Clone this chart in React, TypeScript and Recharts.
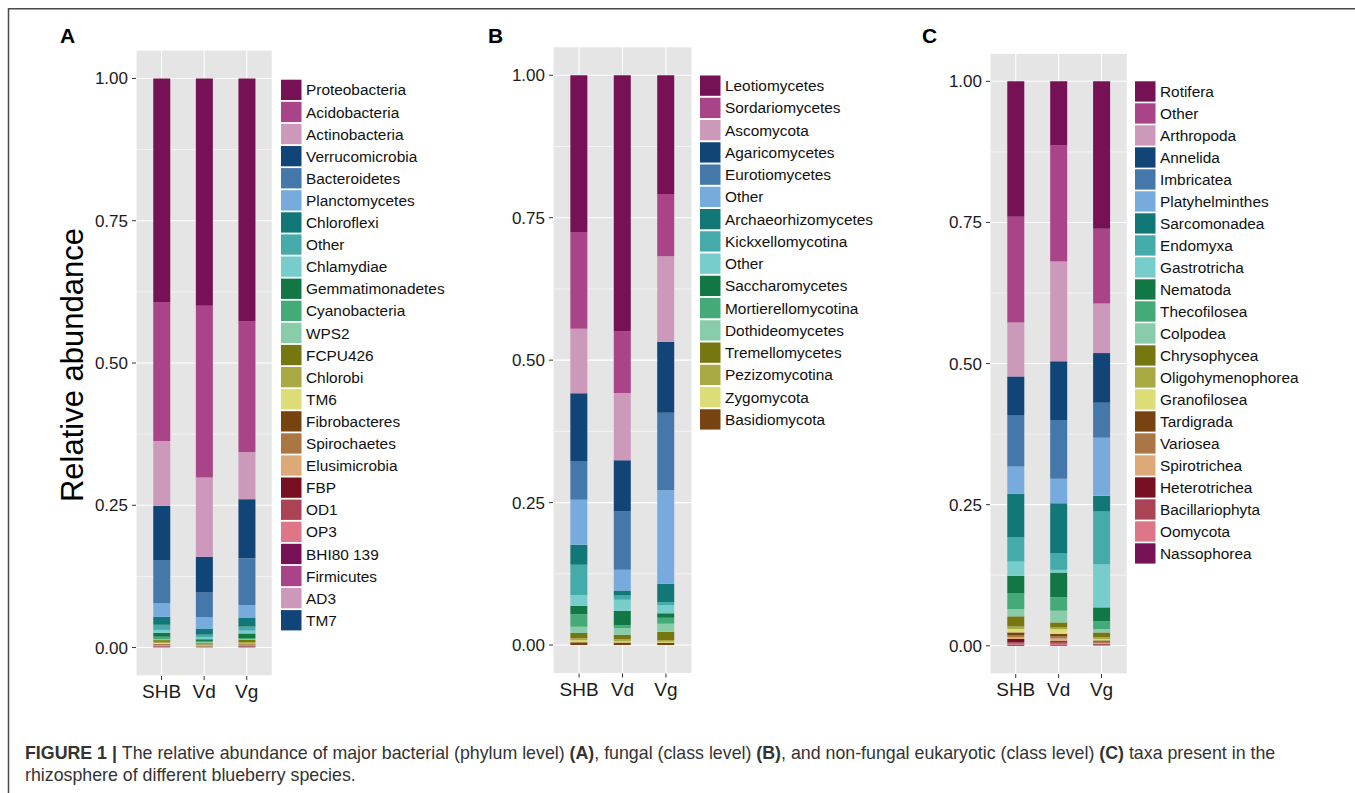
import React from "react";
import { BarChart, Bar, XAxis, YAxis, CartesianGrid } from "recharts";

const FONT = "'Liberation Sans', Arial, Helvetica, sans-serif";

const SAMPLES = ["SHB", "Vd", "Vg"];
const Y_TICKS = [0, 0.25, 0.5, 0.75, 1];
const Y_MINOR_TICKS = [0.125, 0.375, 0.625, 0.875];

const PALETTE = [
  "#771155", "#AA4488", "#CC99BB", "#114477", "#4477AA", "#77AADD", "#117777",
  "#44AAAA", "#77CCCC", "#117744", "#44AA77", "#88CCAA", "#777711", "#AAAA44",
  "#DDDD77", "#774411", "#AA7744", "#DDAA77", "#771122", "#AA4455", "#DD7788",
  "#771155", "#AA4488", "#CC99BB", "#114477",
];

// Panel A: bacteria (phylum level)
const BACTERIA_TAXA = [
  "Proteobacteria", "Acidobacteria", "Actinobacteria", "Verrucomicrobia", "Bacteroidetes",
  "Planctomycetes", "Chloroflexi", "Other", "Chlamydiae", "Gemmatimonadetes", "Cyanobacteria",
  "WPS2", "FCPU426", "Chlorobi", "TM6", "Fibrobacteres", "Spirochaetes", "Elusimicrobia",
  "FBP", "OD1", "OP3", "BHI80 139", "Firmicutes", "AD3", "TM7",
];
const BACTERIA_SHB = [0.393, 0.244, 0.114, 0.095, 0.076, 0.024, 0.014, 0.009, 0.005, 0.007, 0.004, 0.002, 0.003, 0.002, 0.0015, 0.001, 0.001, 0.001, 0.001, 0.001, 0.0005, 0.0003, 0.0003, 0.0002, 0.0002];
const BACTERIA_VD = [0.3994, 0.302, 0.139, 0.063, 0.043, 0.021, 0.010, 0.004, 0.004, 0.003, 0.002, 0.002, 0.002, 0.002, 0.0006, 0.0006, 0.0005, 0.0005, 0.0003, 0.0003, 0.0002, 0.0002, 0.0002, 0.0001, 0.0001];
const BACTERIA_VG = [0.4272, 0.229, 0.083, 0.104, 0.082, 0.022, 0.016, 0.007, 0.005, 0.008, 0.002, 0.001, 0.004, 0.003, 0.001, 0.0012, 0.001, 0.0008, 0.0008, 0.0006, 0.0004, 0.0003, 0.0003, 0.0002, 0.0002];

// Panel B: fungi (class level)
const FUNGI_TAXA = [
  "Leotiomycetes", "Sordariomycetes", "Ascomycota", "Agaricomycetes", "Eurotiomycetes", "Other",
  "Archaeorhizomycetes", "Kickxellomycotina", "Other", "Saccharomycetes", "Mortierellomycotina",
  "Dothideomycetes", "Tremellomycetes", "Pezizomycotina", "Zygomycota", "Basidiomycota",
];
const FUNGI_SHB = [0.275, 0.170, 0.113, 0.119, 0.068, 0.079, 0.035, 0.053, 0.019, 0.015, 0.022, 0.011, 0.009, 0.0035, 0.0035, 0.005];
const FUNGI_VD = [0.4496, 0.108, 0.118, 0.090, 0.1025, 0.036, 0.009, 0.0076, 0.019, 0.0257, 0.0047, 0.0118, 0.0076, 0.004, 0.0023, 0.0042];
const FUNGI_VG = [0.2085, 0.109, 0.150, 0.125, 0.136, 0.164, 0.032, 0.0053, 0.0146, 0.0076, 0.0106, 0.014, 0.0146, 0.003, 0.0018, 0.004];

// Panel C: non-fungal eukaryotes (class level)
const EUK_TAXA = [
  "Rotifera", "Other", "Arthropoda", "Annelida", "Imbricatea", "Platyhelminthes", "Sarcomonadea",
  "Endomyxa", "Gastrotricha", "Nematoda", "Thecofilosea", "Colpodea", "Chrysophycea",
  "Oligohymenophorea", "Granofilosea", "Tardigrada", "Variosea", "Spirotrichea", "Heterotrichea",
  "Bacillariophyta", "Oomycota", "Nassophorea",
];
const EUK_SHB = [0.2398, 0.1875, 0.0955, 0.0685, 0.091, 0.0485, 0.0765, 0.0435, 0.025, 0.0307, 0.0283, 0.013, 0.018, 0.0045, 0.006, 0.0046, 0.0036, 0.0035, 0.006, 0.0025, 0.0015, 0.002];
const EUK_VD = [0.1135, 0.2055, 0.177, 0.104, 0.104, 0.0435, 0.089, 0.029, 0.0048, 0.0436, 0.024, 0.0207, 0.0089, 0.003, 0.0083, 0.0047, 0.0035, 0.0047, 0.0023, 0.0025, 0.0023, 0.0012];
const EUK_VG = [0.2614, 0.132, 0.088, 0.088, 0.062, 0.103, 0.027, 0.094, 0.0766, 0.0248, 0.0137, 0.0059, 0.0082, 0.0036, 0.0023, 0.0023, 0.0025, 0.0012, 0.0012, 0.001, 0.0007, 0.0006];

type PanelProps = {
  taxa: string[];
  values: number[][];
  left: number;
  width: number;
  marginTop: number;
  marginBottom: number;
  marginRight: number;
};

function StackPanel({ taxa, values, left, width, marginTop, marginBottom, marginRight }: PanelProps) {
  const data = SAMPLES.map((s, j) => {
    const row: Record<string, any> = { sample: s };
    taxa.forEach((_, i) => {
      row["t" + i] = values[j][i];
    });
    return row;
  });
  const yAxisW = 60;
  const plotW = width - yAxisW - marginRight;
  const pad = plotW * 0.03125;
  const order = taxa.map((_, i) => i).reverse();
  return (
    <div style={{ position: "absolute", left, top: 0, width, height: 720 }}>
      <BarChart
        width={width}
        height={720}
        data={data}
        margin={{ top: marginTop, right: marginRight, bottom: marginBottom, left: 0 }}
        barSize={17}
      >
        <CartesianGrid yAxisId="minor" fill="#E5E5E5" fillOpacity={1} stroke="#FFFFFF" strokeWidth={0.55} vertical={false} />
        <CartesianGrid stroke="#FFFFFF" strokeWidth={1.1} />
        <XAxis
          dataKey="sample"
          axisLine={false}
          tickLine={{ stroke: "#333333" }}
          tickSize={4}
          tickMargin={5}
          padding={{ left: pad, right: pad }}
          tick={{ fontSize: 19, fill: "#1a1a1a", fontFamily: FONT }}
          height={30}
          interval={0}
        />
        <YAxis
          type="number"
          domain={[-0.05, 1.05]}
          ticks={Y_TICKS}
          allowDataOverflow
          axisLine={false}
          tickLine={{ stroke: "#333333" }}
          tickSize={4}
          tickMargin={4}
          tickFormatter={(v: number) => v.toFixed(2)}
          tick={{ fontSize: 17, fill: "#1a1a1a", fontFamily: FONT }}
          width={yAxisW}
        />
        <YAxis yAxisId="minor" hide type="number" domain={[-0.05, 1.05]} ticks={Y_MINOR_TICKS} allowDataOverflow />
        {order.map((i) => (
          <Bar key={i} dataKey={"t" + i} stackId="a" fill={PALETTE[i]} isAnimationActive={false} />
        ))}
      </BarChart>
    </div>
  );
}

function LegendBlock({ taxa, x, top, step }: { taxa: string[]; x: number; top: number; step: number }) {
  return (
    <g>
      {taxa.map((t, i) => (
        <g key={i}>
          <rect x={x} y={top + i * step} width={20.5} height={20.3} fill={PALETTE[i]} />
          <text
            x={x + 25}
            y={top + i * step + 10.2}
            dominantBaseline="central"
            fontSize={15.4}
            fill="#111"
            fontFamily={FONT}
          >
            {t}
          </text>
        </g>
      ))}
    </g>
  );
}

export default function App() {
  return (
    <div style={{ position: "absolute", left: 0, top: 0, width: 1355, height: 793, overflow: "hidden", background: "#fff" }}>
      <svg width={1355} height={793} style={{ position: "absolute", left: 0, top: 0 }}>
        <rect x={8.5} y={8.75} width={1500} height={1000} fill="none" stroke="#4a4a4a" strokeWidth={1.5} />
        <text x={60} y={43} fontSize={21} fontWeight="bold" fontFamily={FONT} fill="#000">A</text>
        <text x={488} y={43} fontSize={21} fontWeight="bold" fontFamily={FONT} fill="#000">B</text>
        <text x={922} y={43} fontSize={21} fontWeight="bold" fontFamily={FONT} fill="#000">C</text>
        <text
          transform="translate(83,365) rotate(-90)"
          textAnchor="middle"
          fontSize={31}
          fontFamily={FONT}
          fill="#000"
        >
          Relative abundance
        </text>
        <LegendBlock taxa={BACTERIA_TAXA} x={281} top={79.7} step={22.1} />
        <LegendBlock taxa={FUNGI_TAXA} x={700} top={75.5} step={22.25} />
        <LegendBlock taxa={EUK_TAXA} x={1135} top={81.3} step={22.0} />
        <text x={25} y={759} fontSize={17.8} fontFamily={FONT} fill="#333">
          <tspan fontWeight="bold">FIGURE 1 | </tspan>
          The relative abundance of major bacterial (phylum level) <tspan fontWeight="bold">(A)</tspan>, fungal (class level){" "}
          <tspan fontWeight="bold">(B)</tspan>, and non-fungal eukaryotic (class level) <tspan fontWeight="bold">(C)</tspan> taxa present in the
        </text>
        <text x={25} y={781} fontSize={17.8} fontFamily={FONT} fill="#333">
          rhizosphere of different blueberry species.
        </text>
      </svg>
      <StackPanel taxa={BACTERIA_TAXA} values={[BACTERIA_SHB, BACTERIA_VD, BACTERIA_VG]} left={76} width={200} marginTop={50} marginBottom={14} marginRight={3.7} />
      <StackPanel taxa={FUNGI_TAXA} values={[FUNGI_SHB, FUNGI_VD, FUNGI_VG]} left={492.7} width={200} marginTop={46.8} marginBottom={16.5} marginRight={1} />
      <StackPanel taxa={EUK_TAXA} values={[EUK_SHB, EUK_VD, EUK_VG]} left={930} width={200} marginTop={53.1} marginBottom={16} marginRight={2.7} />
    </div>
  );
}
